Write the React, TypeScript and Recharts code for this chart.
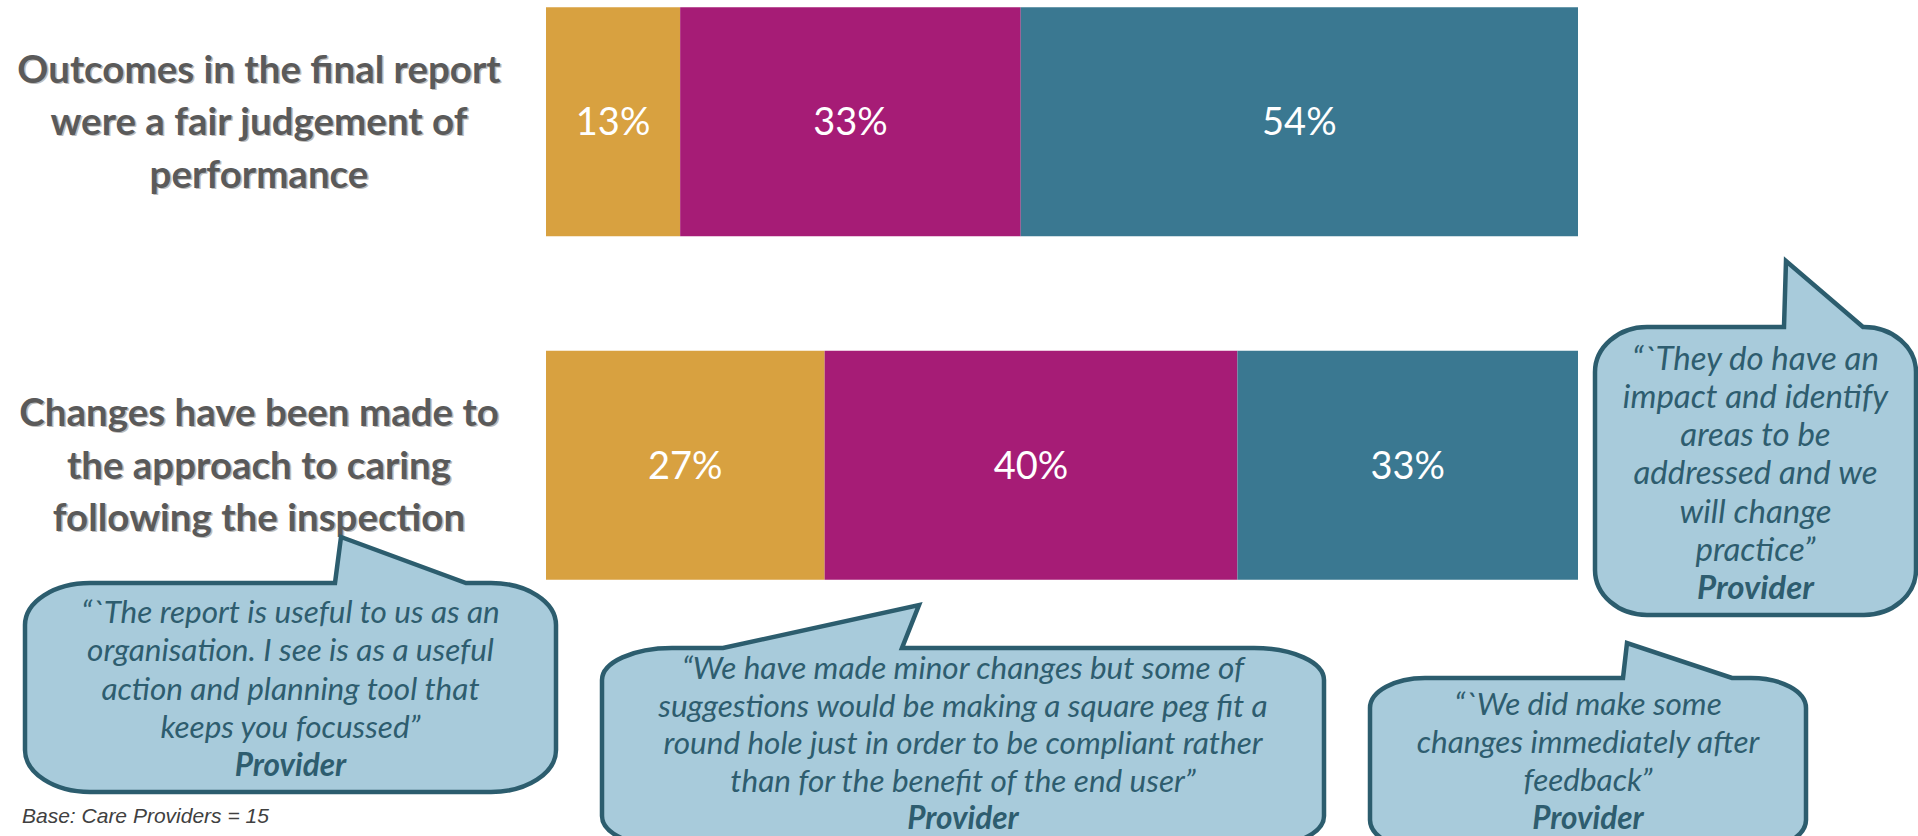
import { Bar, BarChart, LabelList, XAxis, YAxis } from "recharts";

const categories = [
  "Outcomes in the final report\nwere a fair judgement of\nperformance",
  "Changes have been made to\nthe approach to caring\nfollowing the inspection",
];
const disagreeValues = [13, 27];
const neutralValues = [33, 40];
const agreeValues = [54, 33];

const series = [
  { key: "disagree", color: "#D8A140" },
  { key: "neutral", color: "#A61C76" },
  { key: "agree", color: "#3A7891" },
];

const chartData = categories.map((category, i) => ({
  category,
  disagree: disagreeValues[i],
  neutral: neutralValues[i],
  agree: agreeValues[i],
}));

const quoteReport = [
  "“`The report is useful to us as an",
  "organisation. I see is as a useful",
  "action and planning tool that",
  "keeps you focussed”",
];
const quoteMinor = [
  "“We have made minor changes but some of",
  "suggestions  would be making a square peg fit a",
  "round hole just in order to be compliant rather",
  "than for the benefit of the end user”",
];
const quoteImpact = [
  "“`They do have an",
  "impact and identify",
  "areas to be",
  "addressed and we",
  "will change",
  "practice”",
];
const quoteFeedback = ["“`We did make some", "changes immediately after", "feedback”"];

const FONT = "Lato, 'Open Sans', sans-serif";
const BUBBLE_FILL = "#A8CBDB";
const BUBBLE_STROKE = "#2C5D6E";
const BUBBLE_TEXT = "#2E5D6F";

function CategoryTick({ y, payload }: any) {
  const lines = String(payload.value).split("\n");
  const lineHeight = 52.5;
  const cx = 259;
  const first = y - ((lines.length - 1) * lineHeight) / 2;
  return (
    <g>
      {lines.map((line, i) => (
        <g key={i}>
          <text
            x={cx + 1.5}
            y={first + i * lineHeight + 14.5}
            textAnchor="middle"
            fontFamily={FONT}
            fontWeight={700}
            fontSize={38.5}
            fill="#bdbdbd"
          >
            {line}
          </text>
          <text
            x={cx}
            y={first + i * lineHeight + 13.5}
            textAnchor="middle"
            fontFamily={FONT}
            fontWeight={700}
            fontSize={38.5}
            fill="#5a5a5a"
          >
            {line}
          </text>
        </g>
      ))}
    </g>
  );
}

type BubbleProps = {
  x0: number;
  y0: number;
  x1: number;
  y1: number;
  rx: number;
  ry: number;
  tailLeft: number;
  tailRight: number;
  apexX: number;
  apexY: number;
  lines: string[];
  firstLine: number;
  lineGap: number;
  fontSize: number;
};

function Bubble(p: BubbleProps) {
  const d = [
    `M ${p.x0 + p.rx} ${p.y0}`,
    `L ${p.tailLeft} ${p.y0}`,
    `L ${p.apexX} ${p.apexY}`,
    `L ${p.tailRight} ${p.y0}`,
    `L ${p.x1 - p.rx} ${p.y0}`,
    `A ${p.rx} ${p.ry} 0 0 1 ${p.x1} ${p.y0 + p.ry}`,
    `L ${p.x1} ${p.y1 - p.ry}`,
    `A ${p.rx} ${p.ry} 0 0 1 ${p.x1 - p.rx} ${p.y1}`,
    `L ${p.x0 + p.rx} ${p.y1}`,
    `A ${p.rx} ${p.ry} 0 0 1 ${p.x0} ${p.y1 - p.ry}`,
    `L ${p.x0} ${p.y0 + p.ry}`,
    `A ${p.rx} ${p.ry} 0 0 1 ${p.x0 + p.rx} ${p.y0}`,
    "Z",
  ].join(" ");
  const cx = (p.x0 + p.x1) / 2;
  const all = [...p.lines, "Provider"];
  return (
    <g>
      <path d={d} fill={BUBBLE_FILL} stroke={BUBBLE_STROKE} strokeWidth={4.5} strokeLinejoin="miter" />
      {all.map((line, i) => (
        <text
          key={i}
          x={cx}
          y={p.firstLine + i * p.lineGap + p.fontSize * 0.35}
          textAnchor="middle"
          fontFamily={FONT}
          fontStyle="italic"
          fontWeight={i === all.length - 1 ? 700 : 400}
          fontSize={p.fontSize}
          fill={BUBBLE_TEXT}
        >
          {line}
        </text>
      ))}
    </g>
  );
}

export default function App() {
  return (
    <div
      style={{
        position: "fixed",
        left: 0,
        top: 0,
        width: 1918,
        height: 836,
        overflow: "hidden",
        background: "#ffffff",
      }}
    >
      <div style={{ position: "absolute", left: 0, top: -50 }}>
        <BarChart
          layout="vertical"
          width={1918}
          height={700}
          data={chartData}
          margin={{ top: 0, right: 340, bottom: 13, left: 0 }}
          barCategoryGap={57.25}
        >
          <XAxis type="number" domain={[0, 100]} hide />
          <YAxis
            type="category"
            dataKey="category"
            width={546}
            axisLine={false}
            tickLine={false}
            interval={0}
            tick={<CategoryTick />}
          />
          {series.map((s) => (
            <Bar key={s.key} dataKey={s.key} stackId="s" fill={s.color} isAnimationActive={false}>
              <LabelList
                dataKey={s.key}
                position="center"
                fill="#ffffff"
                fontSize={38}
                fontFamily={FONT}
                formatter={(v: any) => `${v}%`}
              />
            </Bar>
          ))}
        </BarChart>
      </div>
      <svg
        width={1918}
        height={836}
        style={{ position: "absolute", left: 0, top: 0, pointerEvents: "none" }}
      >
        <Bubble
          x0={25}
          y0={583}
          x1={556}
          y1={792}
          rx={65}
          ry={42}
          tailLeft={335}
          tailRight={466}
          apexX={341}
          apexY={537}
          lines={quoteReport}
          firstLine={612}
          lineGap={38.3}
          fontSize={31.5}
        />
        <Bubble
          x0={602}
          y0={648}
          x1={1324}
          y1={848}
          rx={70}
          ry={32}
          tailLeft={723}
          tailRight={902}
          apexX={919}
          apexY={605}
          lines={quoteMinor}
          firstLine={668}
          lineGap={37.5}
          fontSize={31.5}
        />
        <Bubble
          x0={1595}
          y0={327}
          x1={1916}
          y1={615}
          rx={52}
          ry={45}
          tailLeft={1784}
          tailRight={1863}
          apexX={1786}
          apexY={261}
          lines={quoteImpact}
          firstLine={358}
          lineGap={38.3}
          fontSize={33}
        />
        <Bubble
          x0={1370}
          y0={678}
          x1={1806}
          y1={850}
          rx={55}
          ry={30}
          tailLeft={1623}
          tailRight={1732}
          apexX={1627}
          apexY={643}
          lines={quoteFeedback}
          firstLine={704}
          lineGap={38}
          fontSize={31.5}
        />
        <text
          x={22}
          y={823}
          fontFamily="'Liberation Sans', Arial, sans-serif"
          fontStyle="italic"
          fontSize={21}
          fill="#404040"
        >
          Base: Care Providers = 15
        </text>
      </svg>
    </div>
  );
}
